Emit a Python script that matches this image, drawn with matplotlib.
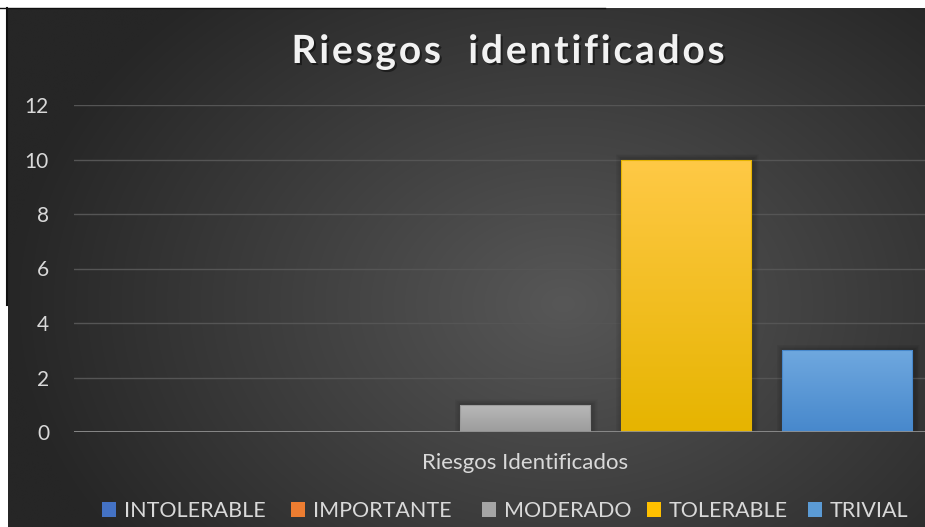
import numpy as np
import matplotlib
matplotlib.use("Agg")
import matplotlib.pyplot as plt
import matplotlib.patheffects as pe
from matplotlib.patches import Patch, Rectangle
from matplotlib.colors import LinearSegmentedColormap, to_rgb
from matplotlib.font_manager import FontProperties

# ---- data ----
category = ["Riesgos Identificados"]
series = ["INTOLERABLE", "IMPORTANTE", "MODERADO", "TOLERABLE", "TRIVIAL"]
values = [0, 0, 1, 10, 3]
yticks = [0, 2, 4, 6, 8, 10, 12]
title = "Riesgos  identificados"

# colours: legend swatch, bar gradient top, bar gradient bottom
swatch = ["#4472c4", "#ed7d31", "#a5a5a5", "#ffc000", "#5b9bd5"]
grad_top = ["#6f93d6", "#f5a062", "#b9b9b9", "#ffc946", "#6fa8df"]
grad_bot = ["#3f6bbf", "#e0752c", "#9c9c9c", "#e6b400", "#4788cc"]

FONT = "Lato"
W, H = 925, 527
fig = plt.figure(figsize=(W / 100, H / 100), dpi=100)
fig.patch.set_facecolor("white")
renderer = fig.canvas.get_renderer()

# ---- dark radial background panel ----
bg = fig.add_axes([0, 0, 1, 1])
bg.set_xlim(0, W)
bg.set_ylim(H, 0)
bg.axis("off")
yy, xx = np.mgrid[0:H, 0:W]
r = np.sqrt(((xx - 560) / 560.0) ** 2 + ((yy - 300) / 420.0) ** 2)
r = np.clip(r, 0, 1)
c_in, c_out = np.array(to_rgb("#575757")), np.array(to_rgb("#262626"))
img = c_in[None, None, :] * (1 - r[..., None]) + c_out[None, None, :] * r[..., None]
bg.imshow(img, extent=(8, W, H, 8), aspect="auto", zorder=0)
bg.plot([0, 605], [7.5, 7.5], color="#111111", lw=1.0, zorder=1)
bg.plot([7, 7], [8, 305], color="#111111", lw=1.5, zorder=1)

# ---- plot area ----
ax = fig.add_axes([74 / W, (H - 432) / H, (W - 74) / W, (432 - 105) / H])
ax.set_facecolor("none")
n = len(series)
offsets = np.arange(n) - (n - 1) / 2
width = 0.81

bars = ax.bar(offsets, values, width=width, color="none", zorder=3)
for i, b in enumerate(bars):
    x0, w, h = b.get_x(), b.get_width(), b.get_height()
    if h <= 0:
        continue
    # soft shadow around the bar
    for k in range(1, 9):
        pad_x = 0.005 * k
        pad_y = 0.025 * k
        ax.add_patch(Rectangle((x0 - pad_x + 0.008, 0), w + 2 * pad_x, h + pad_y,
                               facecolor="black", edgecolor="none",
                               alpha=0.025, zorder=2))
    cmap = LinearSegmentedColormap.from_list("g%d" % i, [grad_bot[i], grad_top[i]])
    grad = np.linspace(0, 1, 256).reshape(-1, 1)
    im = ax.imshow(grad, cmap=cmap, extent=(x0, x0 + w, 0, h), origin="lower",
                   aspect="auto", zorder=3)
    im.set_clip_path(b)
    ax.add_patch(Rectangle((x0, 0), w, h, facecolor="none",
                           edgecolor=grad_bot[i], lw=0.8, zorder=4))

ax.set_xlim(-2.80, 2.484)
ax.set_ylim(0, 12)
ax.set_yticks(yticks)
ax.grid(axis="y", color="#555555", lw=1.0, zorder=1)
ax.set_axisbelow(True)
ax.axhline(0, color="#8f8f8f", lw=2.0, zorder=5)
for s in ax.spines.values():
    s.set_visible(False)
ax.tick_params(axis="y", length=0, pad=18, labelsize=15, labelcolor="#d9d9d9")
ax.set_xticks([0])
ax.set_xticklabels(category)
ax.tick_params(axis="x", length=0, pad=15, labelsize=16, labelcolor="#d9d9d9")
for lab in ax.get_yticklabels() + ax.get_xticklabels():
    lab.set_fontfamily(FONT)

# ---- title with letter spacing ----
tprop = FontProperties(family=FONT, weight="bold", size=28)


def text_width(s):
    w, _, _ = renderer.get_text_width_height_descent(s + "x", tprop, ismath=False)
    wx, _, _ = renderer.get_text_width_height_descent("x", tprop, ismath=False)
    return w - wx


natural = text_width(title)
target_w = 433.0
spacing = (target_w - natural) / (len(title) - 1)
x_start = 508 - target_w / 2
shadow = [pe.withSimplePatchShadow(offset=(1.5, -1.5), shadow_rgbFace="black", alpha=0.45)]
for i, ch in enumerate(title):
    if ch == " ":
        continue
    xp = x_start + text_width(title[:i]) + i * spacing
    fig.text(xp / W, 1 - 63 / H, ch, ha="left", va="baseline",
             fontproperties=tprop, color="#f2f2f2", path_effects=shadow)

# ---- legend: one entry per series ----
legend_x = [102, 291, 482, 647, 808]
for i in range(n):
    leg = fig.legend([Patch(facecolor=swatch[i], edgecolor="none")], [series[i]],
                     loc="center left", bbox_to_anchor=(legend_x[i] / W, 1 - 511 / H),
                     frameon=False, handlelength=0.67, handleheight=0.67,
                     handletextpad=0.34, borderpad=0, borderaxespad=0,
                     prop={"family": FONT, "size": 15.5})
    for t in leg.get_texts():
        t.set_color("#d9d9d9")

fig.savefig("out.png", dpi=100, facecolor=fig.get_facecolor())
